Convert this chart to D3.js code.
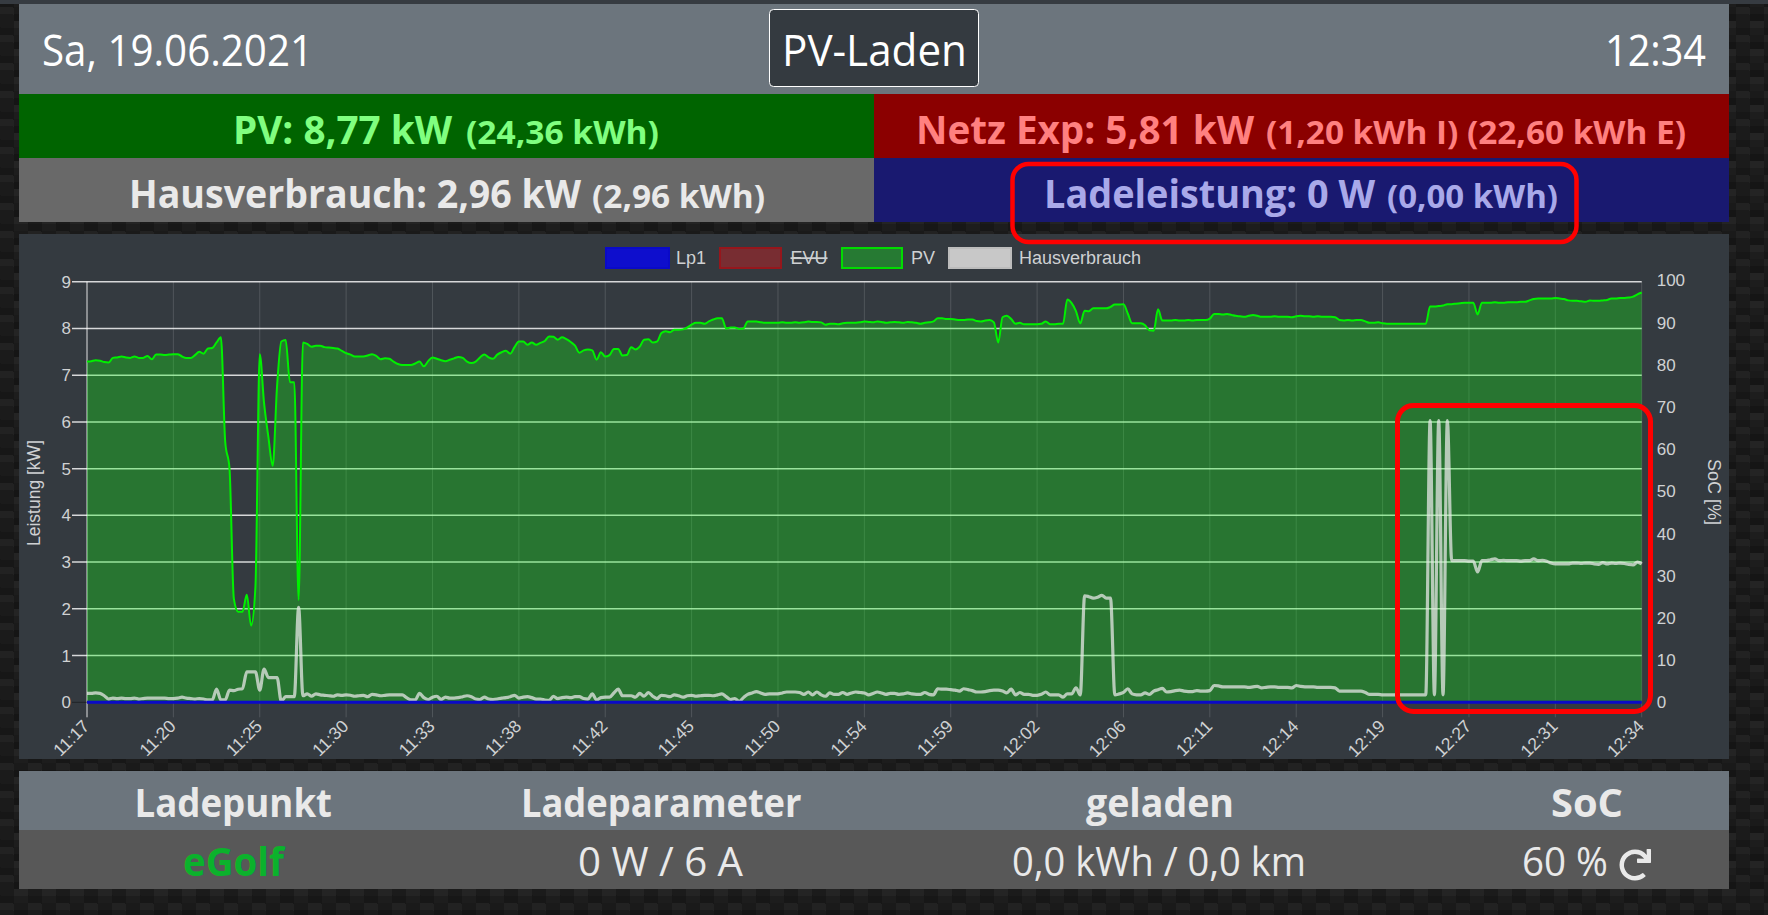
<!DOCTYPE html>
<html lang="de">
<head>
<meta charset="utf-8">
<title>PV-Laden</title>
<script src="https://cdn.jsdelivr.net/npm/d3@7/dist/d3.min.js"></script>
<style>
html,body{margin:0;padding:0;width:1768px;height:915px;overflow:hidden}
body{background:
linear-gradient(27deg,#171717 7px,transparent 7px) 0 7px,
linear-gradient(207deg,#171717 7px,transparent 7px) 14px 0,
linear-gradient(27deg,#222 7px,transparent 7px) 0 14px,
linear-gradient(207deg,#222 7px,transparent 7px) 14px 7px,
linear-gradient(90deg,#1b1b1b 14px,transparent 14px),
linear-gradient(#1d1d1d 25%,#1a1a1a 25%,#1a1a1a 50%,transparent 50%,transparent 75%,#242424 75%,#242424);
background-color:#151515;background-size:28px 28px}
svg{display:block;position:absolute;left:0;top:0}
text{font-family:"Open Sans","Noto Sans",sans-serif}
.c text{font-family:"Liberation Sans",Arial,sans-serif}
</style>
</head>
<body>
<svg id="page" width="1768" height="915"></svg>
<script>
const tickLabels = ["11:17","11:20","11:25","11:30","11:33","11:38","11:42","11:45","11:50","11:54","11:59","12:02","12:06","12:11","12:14","12:19","12:27","12:31","12:34"];
const powerTicks = [0,1,2,3,4,5,6,7,8,9];
const socTicks = [0,10,20,30,40,50,60,70,80,90,100];
const legendLabels = ["Lp1","EVU","PV","Hausverbrauch"];

const pvValues = [
7.29,7.30,7.32,7.31,7.28,7.27,7.37,7.38,7.40,7.38,7.37,7.40,7.37,7.37,7.41,7.34,7.44,7.44,7.43,7.44,
7.45,7.45,7.40,7.37,7.37,7.43,7.50,7.46,7.57,7.58,7.70,7.81,5.58,5.00,2.22,1.94,1.94,2.30,1.64,2.47,
7.45,6.40,5.68,5.06,6.75,7.72,7.75,6.85,6.85,2.19,7.70,7.67,7.61,7.63,7.63,7.60,7.59,7.58,7.57,7.52,
7.47,7.44,7.40,7.40,7.40,7.42,7.45,7.41,7.34,7.36,7.35,7.29,7.24,7.22,7.22,7.22,7.25,7.29,7.19,7.30,
7.38,7.35,7.32,7.30,7.33,7.36,7.39,7.37,7.29,7.26,7.29,7.38,7.44,7.38,7.35,7.44,7.49,7.52,7.46,7.60,
7.72,7.72,7.65,7.70,7.65,7.69,7.73,7.83,7.82,7.76,7.81,7.77,7.71,7.63,7.48,7.53,7.55,7.53,7.33,7.49,
7.40,7.43,7.56,7.56,7.42,7.43,7.60,7.55,7.61,7.76,7.77,7.70,7.72,7.90,7.94,7.92,7.97,7.97,7.98,8.02,
8.08,8.12,8.12,8.10,8.15,8.19,8.22,8.22,8.00,8.02,8.02,7.99,8.00,8.15,8.15,8.15,8.13,8.12,8.12,8.12,
8.12,8.13,8.12,8.12,8.13,8.12,8.13,8.15,8.14,8.14,8.13,8.08,8.10,8.10,8.09,8.11,8.12,8.12,8.12,8.13,
8.15,8.14,8.13,8.15,8.14,8.12,8.13,8.14,8.13,8.12,8.14,8.13,8.12,8.10,8.12,8.13,8.15,8.22,8.22,8.20,
8.20,8.19,8.18,8.18,8.19,8.19,8.16,8.15,8.17,8.18,8.13,7.70,8.24,8.27,8.20,8.10,8.12,8.09,8.09,8.09,
8.09,8.10,8.15,8.09,8.09,8.10,8.10,8.62,8.54,8.37,8.11,8.38,8.37,8.43,8.43,8.43,8.43,8.46,8.51,8.51,
8.52,8.32,8.11,8.11,8.11,8.07,7.96,7.95,8.41,8.17,8.17,8.17,8.18,8.17,8.17,8.18,8.17,8.18,8.18,8.18,
8.21,8.31,8.31,8.30,8.31,8.29,8.27,8.26,8.25,8.27,8.29,8.27,8.25,8.25,8.25,8.26,8.25,8.25,8.25,8.24,
8.26,8.27,8.26,8.26,8.25,8.26,8.25,8.25,8.25,8.24,8.18,8.17,8.18,8.17,8.18,8.18,8.15,8.12,8.12,8.13,
8.11,8.10,8.10,8.10,8.10,8.10,8.10,8.10,8.10,8.10,8.10,8.47,8.47,8.48,8.49,8.52,8.52,8.53,8.54,8.55,
8.55,8.55,8.30,8.55,8.55,8.55,8.56,8.55,8.55,8.56,8.56,8.56,8.57,8.57,8.60,8.63,8.64,8.64,8.64,8.64,
8.65,8.64,8.63,8.60,8.59,8.59,8.58,8.57,8.60,8.59,8.59,8.60,8.61,8.64,8.64,8.65,8.65,8.66,8.68,8.73,8.77
];

const hausValues = [
.19,.19,.20,.19,.14,.07,.09,.08,.09,.08,.08,.09,.07,.08,.09,.09,.09,.09,.09,.08,
.08,.09,.11,.09,.08,.07,.08,.07,.05,.05,.28,.05,.05,.26,.25,.28,.29,.65,.65,.65,
.26,.71,.53,.53,.53,.02,.12,.12,.12,2.03,.14,.18,.13,.18,.16,.15,.14,.13,.16,.15,
.16,.15,.13,.14,.15,.12,.17,.16,.14,.15,.16,.16,.16,.16,.10,.05,.05,.19,.10,.06,
.11,.13,.06,.11,.09,.09,.10,.12,.14,.12,.07,.06,.11,.07,.06,.07,.09,.10,.12,.15,
.09,.11,.12,.10,.07,.07,.05,.04,.13,.08,.10,.11,.10,.12,.12,.08,.07,.18,.05,.10,
.11,.11,.20,.28,.14,.14,.14,.11,.19,.13,.21,.13,.08,.15,.14,.12,.16,.14,.11,.14,
.15,.13,.14,.15,.15,.14,.16,.18,.12,.06,.08,.02,.10,.17,.20,.23,.20,.17,.18,.18,
.18,.20,.22,.22,.22,.21,.17,.22,.16,.22,.16,.13,.20,.17,.17,.21,.17,.20,.22,.21,
.20,.16,.19,.22,.20,.17,.19,.19,.17,.18,.20,.18,.17,.17,.21,.17,.16,.29,.28,.28,
.27,.26,.24,.29,.27,.25,.22,.22,.23,.25,.26,.26,.24,.20,.28,.16,.21,.17,.17,.15,
.15,.17,.22,.16,.16,.16,.11,.18,.18,.31,.16,2.28,2.26,2.23,2.25,2.29,2.23,2.23,.16,.18,
.21,.29,.18,.16,.16,.20,.17,.24,.27,.30,.22,.23,.25,.26,.24,.23,.23,.25,.24,.24,
.25,.36,.35,.33,.33,.33,.33,.33,.33,.32,.33,.34,.31,.32,.33,.33,.32,.32,.32,.31,
.36,.34,.33,.33,.33,.32,.32,.32,.32,.31,.24,.24,.24,.24,.24,.24,.21,.17,.17,.17,
.16,.16,.16,.16,.16,.16,.16,.16,.16,.16,.16,6.03,.16,6.03,.16,6.03,3.03,3.03,3.03,3.03,
3.02,3.02,2.79,3.03,3.03,3.05,3.07,3.03,3.04,3.03,3.03,3.03,3.02,3.03,3.03,3.07,3.03,3.04,3.02,2.98,
2.96,2.96,2.96,2.96,2.98,2.98,2.97,2.98,2.98,2.96,2.95,2.99,2.96,2.98,2.97,2.98,2.97,2.95,2.94,3.00,2.96
];

const lp1Values = [
0,0,0,0,0,0,0,0,0,0,0,0,0,0,0,0,0,0,0,0,
0,0,0,0,0,0,0,0,0,0,0,0,0,0,0,0,0,0,0,0,
0,0,0,0,0,0,0,0,0,0,0,0,0,0,0,0,0,0,0,0,
0,0,0,0,0,0,0,0,0,0,0,0,0,0,0,0,0,0,0,0,
0,0,0,0,0,0,0,0,0,0,0,0,0,0,0,0,0,0,0,0,
0,0,0,0,0,0,0,0,0,0,0,0,0,0,0,0,0,0,0,0,
0,0,0,0,0,0,0,0,0,0,0,0,0,0,0,0,0,0,0,0,
0,0,0,0,0,0,0,0,0,0,0,0,0,0,0,0,0,0,0,0,
0,0,0,0,0,0,0,0,0,0,0,0,0,0,0,0,0,0,0,0,
0,0,0,0,0,0,0,0,0,0,0,0,0,0,0,0,0,0,0,0,
0,0,0,0,0,0,0,0,0,0,0,0,0,0,0,0,0,0,0,0,
0,0,0,0,0,0,0,0,0,0,0,0,0,0,0,0,0,0,0,0,
0,0,0,0,0,0,0,0,0,0,0,0,0,0,0,0,0,0,0,0,
0,0,0,0,0,0,0,0,0,0,0,0,0,0,0,0,0,0,0,0,
0,0,0,0,0,0,0,0,0,0,0,0,0,0,0,0,0,0,0,0,
0,0,0,0,0,0,0,0,0,0,0,0,0,0,0,0,0,0,0,0,
0,0,0,0,0,0,0,0,0,0,0,0,0,0,0,0,0,0,0,0,
0,0,0,0,0,0,0,0,0,0,0,0,0,0,0,0,0,0,0,0,0
];

const svg = d3.select("#page");

// page panels
function rect(x0,y0,x1,y1,fill){ return svg.append("rect").attr("x",x0).attr("y",y0).attr("width",x1-x0).attr("height",y1-y0).attr("fill",fill); }
rect(0,0,1768,4,"#363b41");
rect(19,4,1729,94,"#6c757d");
rect(19,94,874,158,"#006400");
rect(874,94,1729,158,"#8b0000");
rect(19,158,874,222,"#696969");
rect(874,158,1729,222,"#191970");
rect(19,234,1729,759,"#343a40");
rect(19,771,1729,830,"#6c757d");
rect(19,830,1729,889,"#585858");
svg.append("rect").attr("x",769.5).attr("y",9.5).attr("width",209).attr("height",77).attr("rx",4)
  .attr("fill","#343a40").attr("stroke","#fff").attr("stroke-width",1);

// fitted text
function fit(str,x0,x1,base,size,fill,weight){
  return svg.append("text").attr("x",x0).attr("y",base).attr("font-size",size).attr("fill",fill)
    .attr("font-weight",weight||400).attr("textLength",x1-x0).attr("lengthAdjust","spacingAndGlyphs").text(str);
}
fit("Sa, 19.06.2021",42,313,66,44,"#fff");
fit("PV-Laden",782,967,66,44,"#fff");
fit("12:34",1605,1706,66,44,"#fff");
fit("PV: 8,77 kW",233,452,144,40,"#80ff80",700);
fit("(24,36 kWh)",466,659,144,33,"#80ff80",700);
fit("Netz Exp: 5,81 kW",916,1254,144,40,"#ff8080",700);
fit("(1,20 kWh I) (22,60 kWh E)",1266,1686,144,33,"#ff8080",700);
fit("Hausverbrauch: 2,96 kW",129,581,208,39,"#e9e9e9",700);
fit("(2,96 kWh)",592,765,208,33,"#e9e9e9",700);
fit("Ladeleistung: 0 W",1044,1375,208,40,"#a9a9e9",700);
fit("(0,00 kWh)",1387,1558,208,33,"#a9a9e9",700);
fit("Ladepunkt",134.5,332,817,40,"#e9e9e9",700);
fit("Ladeparameter",521,801.5,817,40,"#e9e9e9",700);
fit("geladen",1086,1234,817,40,"#e9e9e9",700);
fit("SoC",1551,1623,817,40,"#e9e9e9",700);
fit("eGolf",183,284,876,40,"#0bb22c",700);
fit("0 W / 6 A",578,743,876,40,"#e9e9e9");
fit("0,0 kWh / 0,0 km",1012,1306,876,40,"#e9e9e9");
fit("60 %",1522,1608,876,40,"#e9e9e9");
svg.append("path").attr("transform","translate(1619,849) scale(0.0625)").attr("fill","#e9e9e9")
  .attr("d","M500.33 0h-47.41a12 12 0 0 0-12 12.57l4 82.76A247.42 247.42 0 0 0 256 8C119.34 8 8.05 119.34 8 256.12 8 393 119.06 504 255.88 504a247.1 247.1 0 0 0 166.18-63.91 12 12 0 0 0 .48-17.43l-34-34a12 12 0 0 0-16.38-.55A176 176 0 1 1 402.1 157.8l-101.53-4.87a12 12 0 0 0-12.57 12v47.41a12 12 0 0 0 12 12h200.33a12 12 0 0 0 12-12V12a12 12 0 0 0-12-12z");

// chart
const left=87,right=1641.7,top_=281.7,bottom=702.3;
const last=pvValues.length-1;
const step=last/(tickLabels.length-1);
const x=d3.scaleLinear().domain([0,last]).range([left,right]);
const y=d3.scaleLinear().domain([0,9]).range([bottom,top_]);
const ySoc=d3.scaleLinear().domain([0,100]).range([bottom,280.5]);
const chart=svg.append("g").attr("class","c");
const tickColor="#cfd1d3", fs=17;

// vertical grid
const xTicks=tickLabels.map((_,i)=>i*step);
chart.append("g").selectAll("line").data(xTicks).join("line")
  .attr("x1",d=>x(d)).attr("x2",d=>x(d)).attr("y1",top_).attr("y2",bottom+15)
  .attr("stroke",(d,i)=>i===0?"rgba(255,255,255,.85)":"rgba(255,255,255,.14)").attr("stroke-width",1);
// horizontal grid
chart.append("g").selectAll("line").data(powerTicks.filter(d=>d>0)).join("line")
  .attr("x1",left-15).attr("x2",right).attr("y1",d=>y(d)).attr("y2",d=>y(d))
  .attr("stroke","rgba(255,255,255,.8)").attr("stroke-width",1.5);
chart.append("line").attr("x1",left-15).attr("x2",left).attr("y1",bottom).attr("y2",bottom).attr("stroke","rgba(0,0,0,.4)");

// series
const idx=(d,i)=>x(i);
const curve=d3.curveMonotoneX;
chart.append("path").datum(pvValues)
  .attr("d",d3.area().x(idx).y0(y(0)).y1(d=>y(d)).curve(curve))
  .attr("fill","rgba(14,255,18,.3)");
chart.append("path").datum(pvValues)
  .attr("d",d3.line().x(idx).y(d=>y(d)).curve(curve)).attr("fill","none").attr("stroke","#00f000").attr("stroke-width",2).attr("stroke-linejoin","round");
chart.append("path").datum(hausValues)
  .attr("d",d3.line().x(idx).y(d=>y(d)).curve(curve)).attr("fill","none").attr("stroke","rgba(232,232,232,.74)").attr("stroke-width",3.2).attr("stroke-linejoin","round");
chart.append("path").datum(lp1Values)
  .attr("d",d3.line().x(idx).y(d=>y(d))).attr("fill","none").attr("stroke","#0a0ac8").attr("stroke-width",3);

// axes
function styleAxis(g){ g.select(".domain").remove(); g.selectAll(".tick line").remove();
  g.selectAll("text").attr("fill",tickColor).attr("font-size",fs); g.attr("font-family",null); }
chart.append("g").attr("transform",`translate(${left-16},0)`)
  .call(d3.axisLeft(y).tickValues(powerTicks).tickSize(0).tickPadding(0)).call(styleAxis);
chart.append("g").attr("transform",`translate(${right+15},0)`)
  .call(d3.axisRight(ySoc).tickValues(socTicks).tickSize(0).tickPadding(0)).call(styleAxis);
const xg=chart.append("g").attr("transform",`translate(0,${bottom})`)
  .call(d3.axisBottom(x).tickValues(xTicks).tickFormat((d,i)=>tickLabels[i]).tickSize(0)).call(styleAxis);
xg.selectAll("text").attr("text-anchor","end").attr("dy",null).attr("y",0).attr("x",0)
  .attr("font-size",17.5).attr("transform","translate(3,25) rotate(-45)");

chart.append("text").attr("transform","translate(40,493) rotate(-90)").attr("text-anchor","middle").attr("fill",tickColor).attr("font-size",17.5).text("Leistung [kW]");
chart.append("text").attr("transform","translate(1708,492) rotate(90)").attr("text-anchor","middle").attr("fill",tickColor).attr("font-size",18).text("SoC [%]");

// legend
const swatchX=[606,720,842,949], swatchW=[63,61,60,62], labelX=[676,790.5,911,1019];
const swatchFill=["#0e0ecd","#782d32","#267a33","#c8c8c8"], swatchStroke=["#0a0ac8","#96161c","#00dc00","#bcbcbc"];
const lg=chart.append("g").selectAll("g").data(legendLabels).join("g");
lg.append("rect").attr("x",(d,i)=>swatchX[i]).attr("y",248).attr("width",(d,i)=>swatchW[i]).attr("height",20)
  .attr("fill",(d,i)=>swatchFill[i]).attr("stroke",(d,i)=>swatchStroke[i]).attr("stroke-width",2);
lg.append("text").attr("x",(d,i)=>labelX[i]).attr("y",263.5).attr("fill",tickColor).attr("font-size",18)
  .attr("text-decoration",d=>d==="EVU"?"line-through":null).text(d=>d);

// red annotations
svg.append("rect").attr("x",1012.5).attr("y",164).attr("width",564).attr("height",78).attr("rx",16)
  .attr("fill","none").attr("stroke","#ff0000").attr("stroke-width",4.5);
svg.append("rect").attr("x",1397.5).attr("y",405.5).attr("width",253).attr("height",306).attr("rx",16)
  .attr("fill","none").attr("stroke","#ff0000").attr("stroke-width",5);
</script>
</body>
</html>
